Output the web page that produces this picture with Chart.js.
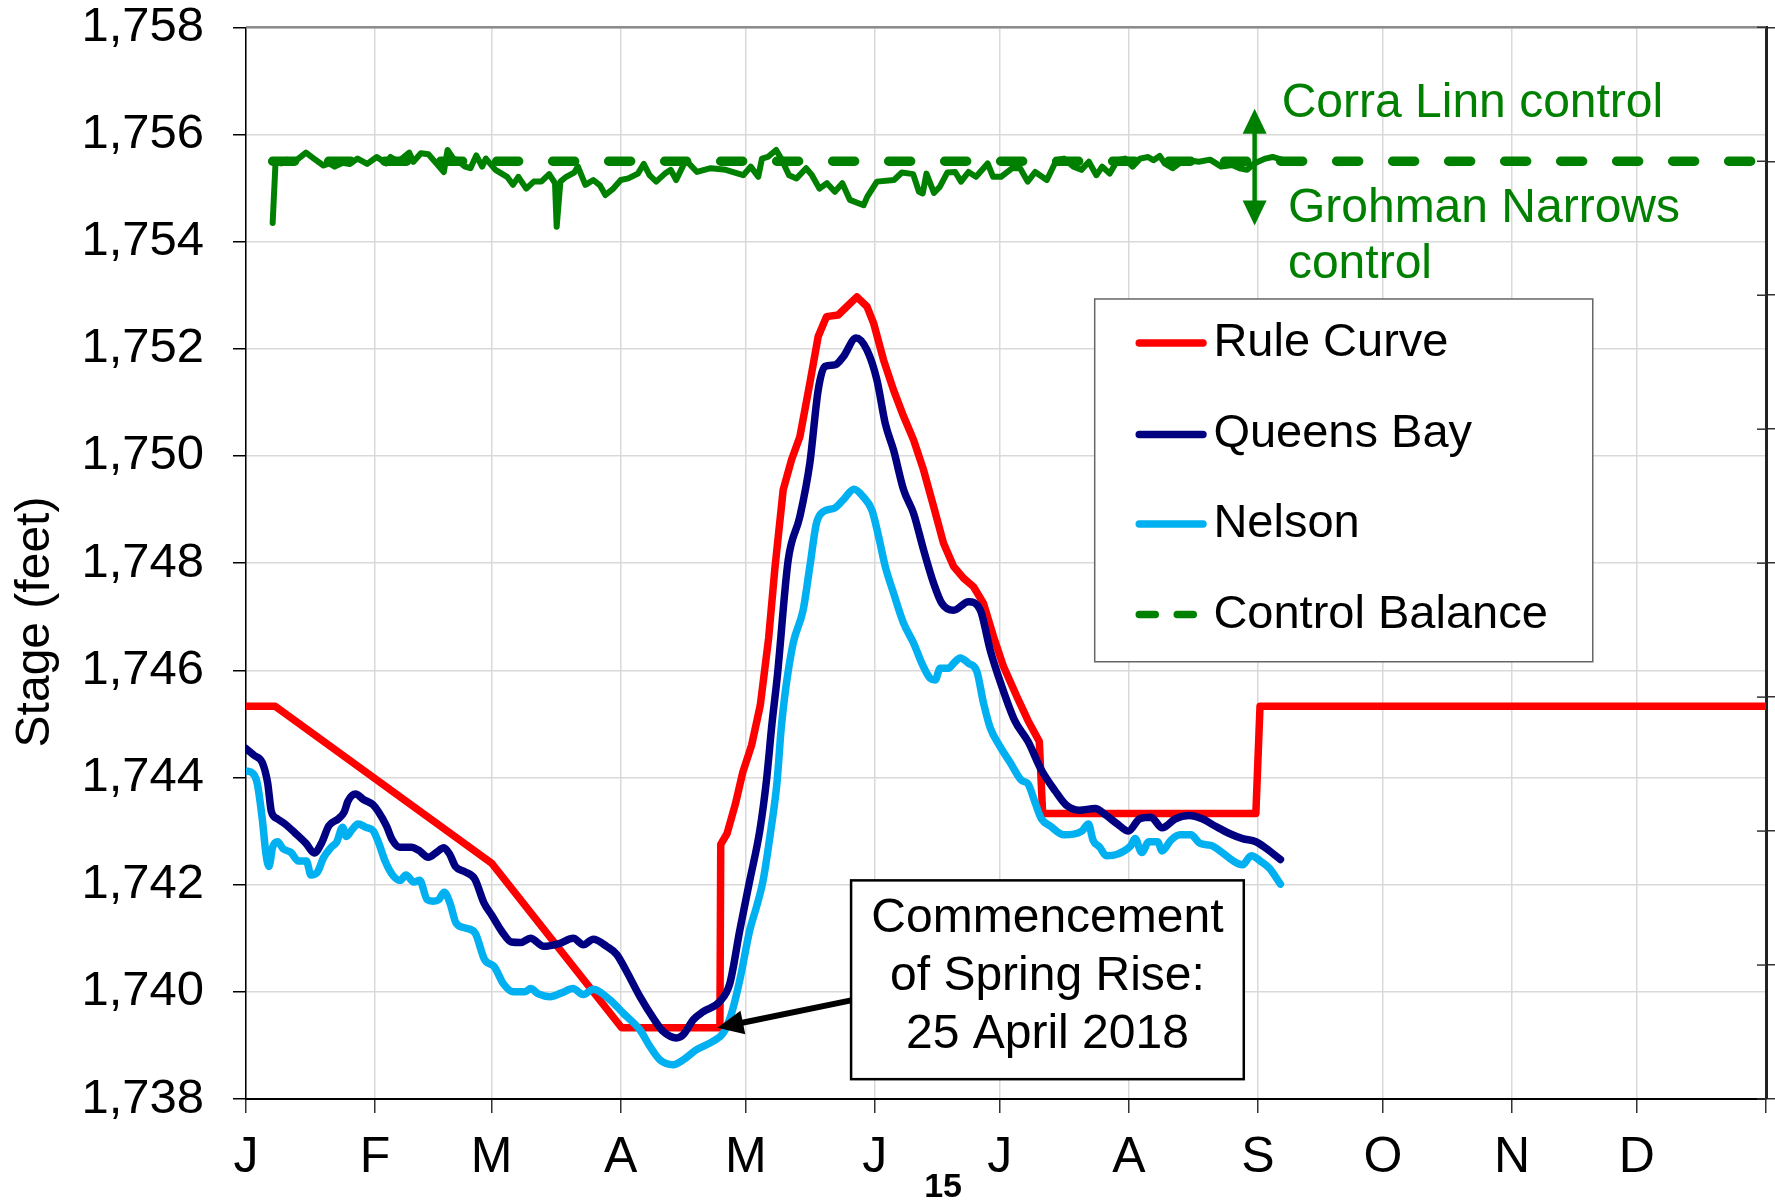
<!DOCTYPE html>
<html>
<head>
<meta charset="utf-8">
<script src="https://cdn.jsdelivr.net/npm/chart.js@4.4.0/dist/chart.umd.min.js"></script>
<style>
body { margin: 0; background: #fff; }
#wrap { width: 1775px; height: 1202px; }
</style>
</head>
<body>
<div id="wrap"><canvas id="myChart"></canvas></div>
<script>
var FONT = "'Liberation Sans', Arial, sans-serif";

// x axis is day of year, ticks at the start of each month
var monthStarts = [0, 31, 59, 90, 120, 151, 181, 212, 243, 273, 304, 334, 365];
var monthLabels = ["J", "F", "M", "A", "M", "J", "J", "A", "S", "O", "N", "D", ""];

var stageMin = 1738;
var stageMax = 1758;
var stageStep = 2;

// Rule Curve
var ruleDays = [0, 7, 59, 90.2, 113.8, 114, 115.5, 117.5, 119.3, 121.4, 123.5, 125.5, 127, 129, 131, 133, 135.4, 137.4, 139.4, 142.2, 144.3, 146.7, 149.1, 150.7, 153.1, 155.5, 157.9, 160.3, 162.7, 165.1, 167.5, 169.9, 172.3, 174.7, 177.1, 179.5, 181.9, 185.1, 187.8, 190.5, 191.3, 242.5, 243.5, 365];
var ruleStage = [1745.33, 1745.33, 1742.4, 1739.33, 1739.33, 1742.75, 1742.95, 1743.5, 1744.1, 1744.6, 1745.35, 1746.6, 1747.9, 1749.37, 1749.93, 1750.36, 1751.36, 1752.23, 1752.6, 1752.63, 1752.79, 1752.97, 1752.79, 1752.48, 1751.79, 1751.23, 1750.74, 1750.3, 1749.74, 1749.06, 1748.37, 1747.94, 1747.72, 1747.56, 1747.25, 1746.63, 1746.07, 1745.51, 1745.06, 1744.67, 1743.33, 1743.33, 1745.33, 1745.33];

// Queens Bay
var queensDays = [0, 2, 3.9, 5.2, 6.1, 7.5, 9.4, 11.7, 14.4, 16.4, 18.1, 19.9, 22.2, 23.6, 24.5, 26.3, 28.2, 30.5, 31.8, 33.7, 35.1, 36.9, 39.7, 41.5, 43.8, 45.7, 47.5, 48.9, 50.3, 52.6, 54.9, 57.2, 59.1, 61.4, 63.7, 66, 68.3, 71.5, 75.2, 78.6, 81, 83.4, 86.6, 89, 91.4, 94.6, 97.8, 100.2, 103.4, 105, 107.4, 109.8, 113.8, 116.2, 118.6, 121, 123.4, 125, 126.3, 127.6, 130.2, 133, 135.4, 137.4, 139, 141.4, 143.4, 146.5, 149.1, 151.5, 153.5, 155.5, 157.9, 160.3, 162.7, 165.1, 167.1, 169.9, 173.5, 176.3, 178.7, 181.4, 184.6, 187.8, 191, 194.3, 196.9, 200.1, 203.9, 206.6, 209.3, 211.9, 214.6, 217.3, 220, 223.2, 226.4, 229.6, 232.8, 236, 239.3, 242.5, 245.1, 248.4];
var queensStage = [1744.54, 1744.41, 1744.28, 1743.9, 1743.36, 1743.23, 1743.13, 1742.97, 1742.77, 1742.59, 1742.77, 1743.1, 1743.23, 1743.36, 1743.56, 1743.69, 1743.59, 1743.49, 1743.36, 1743.1, 1742.84, 1742.7, 1742.7, 1742.64, 1742.51, 1742.6, 1742.69, 1742.57, 1742.34, 1742.24, 1742.11, 1741.65, 1741.42, 1741.13, 1740.93, 1740.92, 1741.0, 1740.85, 1740.9, 1741.0, 1740.88, 1740.98, 1740.85, 1740.7, 1740.38, 1739.91, 1739.51, 1739.26, 1739.14, 1739.2, 1739.48, 1739.63, 1739.82, 1740.16, 1741.16, 1742.09, 1743.02, 1743.96, 1745.0, 1745.9, 1748.06, 1748.87, 1749.87, 1751.23, 1751.67, 1751.7, 1751.85, 1752.2, 1751.98, 1751.42, 1750.61, 1750.11, 1749.37, 1748.93, 1748.25, 1747.63, 1747.25, 1747.12, 1747.28, 1747.13, 1746.38, 1745.72, 1745.06, 1744.67, 1744.14, 1743.75, 1743.49, 1743.39, 1743.42, 1743.29, 1743.13, 1743.0, 1743.23, 1743.26, 1743.06, 1743.23, 1743.29, 1743.23, 1743.09, 1742.96, 1742.86, 1742.8, 1742.67, 1742.47];

// Nelson
var nelsonDays = [0, 1.6, 2.7, 3.9, 4.8, 5.5, 6.4, 7.6, 8.9, 10.8, 12.6, 14.5, 15.6, 17.2, 18.6, 20.5, 21.8, 23.2, 24.1, 25.5, 26.9, 28.8, 30.6, 31.9, 33.4, 35.2, 37, 38.4, 40.3, 41.7, 43.5, 44.9, 46.3, 47.6, 49, 50.4, 52.7, 55, 57.3, 59.6, 61.9, 64.2, 67, 68.4, 70.2, 73, 75.8, 78.5, 81, 83.4, 87.4, 90.6, 94.6, 97, 99.4, 102.6, 105, 108.2, 112.2, 114.6, 116.6, 118.6, 121, 122.6, 124.2, 126, 127.5, 128.5, 129.5, 131.4, 133.8, 135.4, 137, 138.6, 141.4, 143.4, 146, 148.2, 150.3, 151.9, 153.5, 155.5, 157.9, 160.3, 162.3, 164.3, 165.5, 166.7, 168.7, 169.9, 171.5, 173.5, 175.5, 177.1, 178.7, 180.9, 183.5, 186.2, 187.8, 189.4, 191, 193.2, 196.4, 200.7, 202.3, 203.4, 205, 206.6, 209.3, 212.5, 213.5, 215.1, 216.8, 218.9, 220, 222.1, 224.3, 226.9, 229.1, 231.8, 234.4, 237.1, 239.3, 241.4, 243.6, 245.7, 248.4];
var nelsonStage = [1744.12, 1744.08, 1743.89, 1743.23, 1742.57, 1742.34, 1742.7, 1742.8, 1742.67, 1742.6, 1742.44, 1742.44, 1742.18, 1742.24, 1742.5, 1742.7, 1742.8, 1743.07, 1742.9, 1743.03, 1743.13, 1743.07, 1743.0, 1742.77, 1742.44, 1742.18, 1742.08, 1742.18, 1742.05, 1742.08, 1741.72, 1741.69, 1741.72, 1741.86, 1741.65, 1741.29, 1741.19, 1741.1, 1740.6, 1740.47, 1740.14, 1740.0, 1740.0, 1740.06, 1739.96, 1739.91, 1739.98, 1740.06, 1739.95, 1740.05, 1739.85, 1739.6, 1739.29, 1738.98, 1738.73, 1738.64, 1738.73, 1738.92, 1739.08, 1739.23, 1739.6, 1740.23, 1741.16, 1741.59, 1742.09, 1743.0, 1743.9, 1744.9, 1745.6, 1746.51, 1747.13, 1747.94, 1748.75, 1748.96, 1749.03, 1749.18, 1749.38, 1749.24, 1748.99, 1748.5, 1747.94, 1747.44, 1746.88, 1746.51, 1746.13, 1745.85, 1745.82, 1746.04, 1746.04, 1746.13, 1746.23, 1746.13, 1745.98, 1745.39, 1744.93, 1744.6, 1744.28, 1743.95, 1743.88, 1743.55, 1743.23, 1743.09, 1742.93, 1743.0, 1743.13, 1742.83, 1742.7, 1742.54, 1742.57, 1742.73, 1742.86, 1742.6, 1742.8, 1742.8, 1742.63, 1742.83, 1742.93, 1742.93, 1742.77, 1742.73, 1742.6, 1742.44, 1742.37, 1742.54, 1742.44, 1742.31, 1742.01];

// daily control elevation (solid green, not in legend)
var dailyDays = [6.4, 7.1, 8.5, 9.8, 11.2, 12.6, 14.4, 16.3, 18.6, 20, 21.3, 23.2, 24.9, 26.8, 29.1, 31.4, 33.7, 34.7, 36.5, 39.2, 40.2, 42, 43.8, 45.7, 47.5, 48.4, 49.8, 50.7, 52.6, 53.9, 55.3, 56.7, 57.6, 59.9, 62.7, 64.1, 65.4, 67.3, 69.1, 70.9, 72.8, 74.2, 74.6, 75.5, 76.9, 78.8, 79.7, 81.5, 83.4, 85, 86.3, 88.2, 90, 91.8, 94.1, 95.5, 96.9, 98.5, 100.6, 102, 103.3, 105.6, 108.3, 111.6, 115.2, 119.4, 121.2, 123, 123.9, 125.3, 127.3, 128.5, 130.4, 132.2, 134.5, 135.9, 137.7, 139.5, 141.4, 143.2, 145, 148.3, 149.2, 151.5, 155.6, 157.5, 160.2, 161.6, 162.5, 163.4, 165.2, 166.6, 168.4, 170.3, 171.7, 173.5, 175.3, 178.1, 179.4, 181.3, 184, 185.9, 187.7, 189.5, 192.3, 194.6, 196.4, 198.7, 200.6, 202.4, 204.2, 205.6, 207.4, 209.3, 211.1, 212.9, 214.7, 216.6, 217.9, 219.4, 220.6, 222.5, 224.3, 226.2, 228.8, 231.5, 234.2, 236.8, 238.6, 240.4, 242.1, 244.8, 246.5, 248.7];
var dailyStage = [1754.35, 1755.49, 1755.46, 1755.53, 1755.49, 1755.55, 1755.66, 1755.55, 1755.42, 1755.46, 1755.4, 1755.47, 1755.45, 1755.55, 1755.45, 1755.58, 1755.46, 1755.58, 1755.49, 1755.66, 1755.49, 1755.65, 1755.63, 1755.46, 1755.3, 1755.71, 1755.55, 1755.52, 1755.4, 1755.37, 1755.61, 1755.4, 1755.55, 1755.34, 1755.21, 1755.06, 1755.21, 1754.99, 1755.12, 1755.12, 1755.26, 1755.09, 1754.28, 1755.12, 1755.21, 1755.29, 1755.4, 1755.06, 1755.15, 1755.05, 1754.87, 1754.99, 1755.15, 1755.18, 1755.27, 1755.45, 1755.24, 1755.12, 1755.27, 1755.34, 1755.15, 1755.52, 1755.3, 1755.37, 1755.34, 1755.24, 1755.4, 1755.21, 1755.55, 1755.58, 1755.71, 1755.55, 1755.24, 1755.18, 1755.37, 1755.24, 1754.99, 1755.09, 1754.93, 1755.09, 1754.78, 1754.68, 1754.84, 1755.12, 1755.15, 1755.29, 1755.26, 1754.93, 1754.9, 1755.27, 1754.91, 1755.02, 1755.29, 1755.3, 1755.12, 1755.3, 1755.21, 1755.46, 1755.21, 1755.21, 1755.37, 1755.37, 1755.12, 1755.3, 1755.15, 1755.52, 1755.55, 1755.4, 1755.34, 1755.49, 1755.24, 1755.4, 1755.27, 1755.52, 1755.55, 1755.4, 1755.55, 1755.58, 1755.52, 1755.6, 1755.46, 1755.37, 1755.47, 1755.52, 1755.49, 1755.53, 1755.4, 1755.43, 1755.37, 1755.34, 1755.46, 1755.55, 1755.58, 1755.53];

// Control Balance
var balanceDays = [6.4, 363];
var balanceStage = [1755.5, 1755.5];

function toPoints(xs, ys) {
    var pts = [];
    for (var i = 0; i < xs.length; i++) {
        pts.push({x: xs[i], y: ys[i]});
    }
    return pts;
}

// position helpers, day / stage -> pixels
function px(chart, day) { return chart.scales.x.getPixelForValue(day); }
function py(chart, stage) { return chart.scales.y.getPixelForValue(stage); }

// keep tick labels from pushing the plot area around
function noPad(scale) {
    scale.paddingTop = 0;
    scale.paddingBottom = 0;
    scale.paddingLeft = 0;
    scale.paddingRight = 0;
}

function arrowHead(ctx, x1, y1, x2, y2, len, half) {
    var a = Math.atan2(y2 - y1, x2 - x1);
    ctx.beginPath();
    ctx.moveTo(x2, y2);
    ctx.lineTo(x2 - len * Math.cos(a) + half * Math.sin(a), y2 - len * Math.sin(a) - half * Math.cos(a));
    ctx.lineTo(x2 - len * Math.cos(a) - half * Math.sin(a), y2 - len * Math.sin(a) + half * Math.cos(a));
    ctx.closePath();
    ctx.fill();
}

var legendRows = ["Rule Curve", "Queens Bay", "Nelson", "Control Balance"];
var legendRowStage = [1752.11, 1750.4, 1748.73, 1747.04];

var extras = {
    id: 'extras',
    afterDraw: function(chart) {
        var ctx = chart.ctx;
        var area = chart.chartArea;
        ctx.save();

        // top frame line and inner half of right ticks
        ctx.strokeStyle = '#8c8c8c';
        ctx.lineWidth = 2.5;
        ctx.beginPath();
        ctx.moveTo(area.left, area.top);
        ctx.lineTo(area.right, area.top);
        ctx.stroke();
        ctx.strokeStyle = '#333';
        ctx.lineWidth = 1.5;
        chart.scales.y2.ticks.forEach(function(t) {
            var y = chart.scales.y2.getPixelForValue(t.value);
            ctx.beginPath();
            ctx.moveTo(area.right - 9, y);
            ctx.lineTo(area.right, y);
            ctx.stroke();
        });

        // y axis title
        ctx.fillStyle = '#000';
        ctx.font = '48px ' + FONT;
        ctx.textAlign = 'center';
        ctx.textBaseline = 'middle';
        ctx.save();
        ctx.translate(36, 622);
        ctx.rotate(-Math.PI / 2);
        ctx.fillText('Stage (feet)', 0, 0);
        ctx.restore();

        // stray "15" under the axis
        ctx.font = 'bold 34px ' + FONT;
        ctx.fillText('15', px(chart, 167.4), area.bottom + 89);

        // control arrow and labels
        var green = '#008000';
        ctx.strokeStyle = green;
        ctx.fillStyle = green;
        ctx.lineWidth = 4.5;
        var ax = px(chart, 242.2);
        var aTop = py(chart, 1756.48);
        var aBot = py(chart, 1754.3);
        ctx.beginPath();
        ctx.moveTo(ax, aTop + 20);
        ctx.lineTo(ax, aBot - 20);
        ctx.stroke();
        arrowHead(ctx, ax, aBot, ax, aTop, 25, 12);
        arrowHead(ctx, ax, aTop, ax, aBot, 25, 12);
        ctx.font = '48px ' + FONT;
        ctx.textAlign = 'left';
        ctx.textBaseline = 'alphabetic';
        ctx.fillText('Corra Linn control', px(chart, 248.7), py(chart, 1756.33));
        ctx.fillText('Grohman Narrows', px(chart, 250.2), py(chart, 1754.37));
        ctx.fillText('control', px(chart, 250.2), py(chart, 1753.32));

        // legend box
        var lx0 = px(chart, 203.8), lx1 = px(chart, 323.4);
        var ly0 = py(chart, 1752.93), ly1 = py(chart, 1746.16);
        ctx.fillStyle = '#fff';
        ctx.fillRect(lx0, ly0, lx1 - lx0, ly1 - ly0);
        ctx.strokeStyle = '#666';
        ctx.lineWidth = 1.5;
        ctx.strokeRect(lx0, ly0, lx1 - lx0, ly1 - ly0);
        ctx.font = '47px ' + FONT;
        ctx.textBaseline = 'middle';
        legendRows.forEach(function(name, i) {
            var ds = chart.data.datasets.filter(function(d) { return d.label === name; })[0];
            var y = py(chart, legendRowStage[i]);
            ctx.strokeStyle = ds.borderColor;
            ctx.lineWidth = Math.min(ds.borderWidth, 7.5);
            ctx.lineCap = 'round';
            ctx.setLineDash(ds.borderDash ? [16, 22] : []);
            ctx.beginPath();
            ctx.moveTo(px(chart, 214.5), y);
            ctx.lineTo(px(chart, 229.8), y);
            ctx.stroke();
            ctx.setLineDash([]);
            ctx.fillStyle = '#000';
            ctx.fillText(name, px(chart, 232.3), y);
        });

        // spring rise note with arrow
        var bx0 = px(chart, 145.3), bx1 = px(chart, 239.6);
        var by0 = py(chart, 1742.08), by1 = py(chart, 1738.37);
        ctx.fillStyle = '#fff';
        ctx.fillRect(bx0, by0, bx1 - bx0, by1 - by0);
        ctx.strokeStyle = '#000';
        ctx.lineWidth = 2.5;
        ctx.strokeRect(bx0, by0, bx1 - bx0, by1 - by0);
        ctx.fillStyle = '#000';
        ctx.font = '48px ' + FONT;
        ctx.textAlign = 'center';
        ctx.textBaseline = 'alphabetic';
        var cx = (bx0 + bx1) / 2;
        ctx.fillText('Commencement', cx, py(chart, 1741.12));
        ctx.fillText('of Spring Rise:', cx, py(chart, 1740.04));
        ctx.fillText('25 April 2018', cx, py(chart, 1738.96));

        var sx = bx0, sy = py(chart, 1739.84);
        var tx = px(chart, 113.2), ty = py(chart, 1739.33);
        ctx.lineWidth = 6;
        ctx.lineCap = 'butt';
        ctx.beginPath();
        ctx.moveTo(sx, sy);
        ctx.lineTo(tx + 20, ty - 4);
        ctx.stroke();
        arrowHead(ctx, sx, sy, tx, ty, 26, 12);

        ctx.restore();
    }
};

var ctx = document.getElementById('myChart');
var myChart = new Chart(ctx, {
    type: 'line',
    data: {
        datasets: [{
            label: 'Control Balance (daily)',
            data: toPoints(dailyDays, dailyStage),
            borderColor: '#008000',
            borderWidth: 6,
            order: 1
        }, {
            label: 'Control Balance',
            data: toPoints(balanceDays, balanceStage),
            borderColor: '#008000',
            borderWidth: 9.5,
            borderDash: [22, 34],
            borderCapStyle: 'round',
            order: 0
        }, {
            label: 'Nelson',
            data: toPoints(nelsonDays, nelsonStage),
            borderColor: '#00B0F0',
            borderWidth: 7.5,
            cubicInterpolationMode: 'monotone',
            order: 2
        }, {
            label: 'Queens Bay',
            data: toPoints(queensDays, queensStage),
            borderColor: '#000080',
            borderWidth: 7.5,
            cubicInterpolationMode: 'monotone',
            order: 3
        }, {
            label: 'Rule Curve',
            data: toPoints(ruleDays, ruleStage),
            borderColor: '#FF0000',
            borderWidth: 7.5,
            order: 4
        }]
    },
    options: {
        responsive: true,
        maintainAspectRatio: false,
        animation: false,
        elements: {
            point: { radius: 0 },
            line: { fill: false, tension: 0, borderJoinStyle: 'round', borderCapStyle: 'round' }
        },
        layout: { autoPadding: false, padding: { top: 27.3, right: 0, left: 0, bottom: 0 } },
        plugins: {
            legend: { display: false },
            tooltip: { enabled: false }
        },
        scales: {
            x: {
                type: 'linear',
                min: 0,
                max: 365,
                afterBuildTicks: function(scale) {
                    scale.ticks = monthStarts.map(function(v) { return {value: v}; });
                },
                afterFit: function(scale) { scale.height = 103; noPad(scale); },
                ticks: {
                    autoSkip: false,
                    maxRotation: 0,
                    padding: 15,
                    color: '#000',
                    font: { family: FONT, size: 50 },
                    callback: function(v) { return monthLabels[monthStarts.indexOf(v)]; }
                },
                grid: { color: '#d9d9d9', lineWidth: 1.5, tickLength: 14, tickColor: '#333' },
                border: { color: '#000', width: 2 }
            },
            y: {
                position: 'left',
                min: stageMin,
                max: stageMax,
                afterFit: function(scale) { scale.width = 246; noPad(scale); },
                ticks: {
                    stepSize: stageStep,
                    padding: 29,
                    color: '#000',
                    font: { family: FONT, size: 49 },
                    callback: function(v) { return v.toLocaleString('en-US'); }
                },
                grid: { color: '#d9d9d9', lineWidth: 1.5, tickLength: 13, tickColor: '#000' },
                border: { color: '#000', width: 1.5 }
            },
            y2: {
                position: 'right',
                min: 0,
                max: 8,
                afterFit: function(scale) { scale.width = 9; noPad(scale); },
                ticks: { stepSize: 1, display: false },
                grid: { drawOnChartArea: false, tickLength: 9, tickColor: '#333', lineWidth: 1.5 },
                border: { color: '#222', width: 3 }
            }
        }
    },
    plugins: [extras]
});
</script>
</body>
</html>
